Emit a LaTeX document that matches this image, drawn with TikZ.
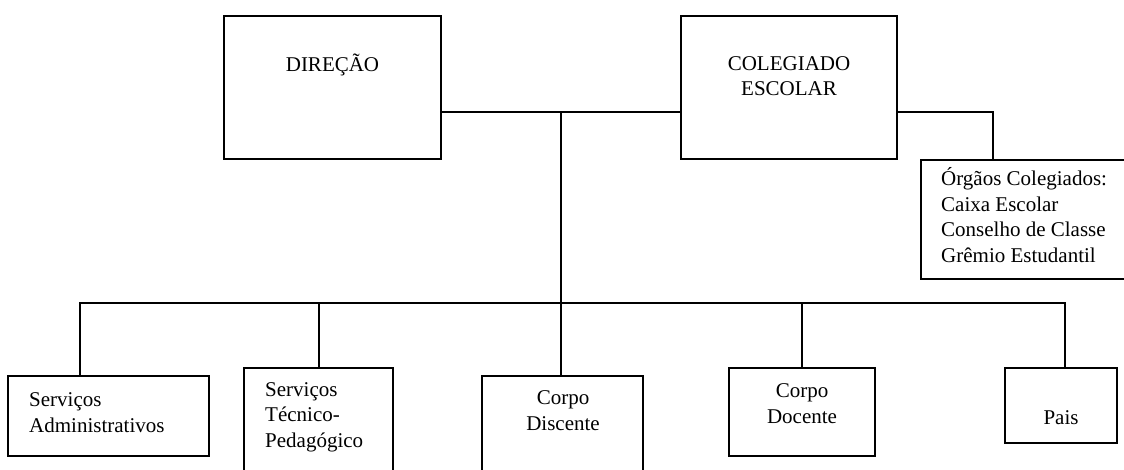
\documentclass[tikz,border=0pt]{standalone}
\usepackage{fontspec}
\setmainfont{Liberation Serif}
\usepackage{tikz}
\tikzset{
  orgbox/.style={rectangle, draw=black, line width=2pt, inner sep=0pt},
  orgline/.style={line width=2pt, draw=black, line cap=rect},
  orgtext/.style={font=\fontsize{21}{25.5}\selectfont, inner sep=0pt, anchor=base},
  orgleft/.style={orgtext, align=left, anchor=base west},
}

\begin{document}
\begin{tikzpicture}[x=1pt,y=-1pt]
\fill[white] (0,0) rectangle (1124,470);
\useasboundingbox (0,0) rectangle (1124,470);
\node[orgbox, minimum width=217pt, minimum height=143pt] (dir) at (332.5,87.5) {};
\node[orgbox, minimum width=216pt, minimum height=143pt] (col) at (789,87.5) {};
\node[orgbox, minimum width=205pt, minimum height=119pt] (org) at (1023.5,219.5) {};
\node[orgbox, minimum width=201pt, minimum height=80pt] (sa) at (108.5,416) {};
\node[orgbox, minimum width=149pt, minimum height=110pt] (st) at (318.5,423) {};
\node[orgbox, minimum width=161pt, minimum height=102pt] (disc) at (562.5,427) {};
\node[orgbox, minimum width=146pt, minimum height=88pt] (doc) at (802,412) {};
\node[orgbox, minimum width=112pt, minimum height=75pt] (pais) at (1061,405.5) {};
\node[orgtext] (tdir) at (332.5,72) {DIREÇÃO};
\node[orgtext, align=center] (tcol) at (789,96) {COLEGIADO\\ESCOLAR};
\node[orgleft] (torg) at (941,262) {Órgãos Colegiados:\\Caixa Escolar\\Conselho de Classe\\Grêmio Estudantil};
\node[orgleft] (tsa) at (29,432) {Serviços\\Administrativos};
\node[orgleft] (tst) at (265,447) {Serviços\\Técnico-\\Pedagógico};
\node[orgtext, align=center] (tdisc) at (563,430) {Corpo\\Discente};
\node[orgtext, align=center] (tdoc) at (802,423) {Corpo\\Docente};
\node[orgtext] (tpais) at (1061,424) {Pais};
\coordinate (jn) at (561,112);
\coordinate (cr) at (993,112);
\coordinate (busl) at (80,303);
\coordinate (busr) at (1065,303);
\draw[orgline] (dir.east |- jn) -- (col.west |- jn);
\draw[orgline] (jn) -- (jn |- disc.north);
\draw[orgline] (col.east |- cr) -- (cr) -- (cr |- org.north);
\draw[orgline] (busl) -- (busr);
\draw[orgline] (busl) -- (busl |- sa.north);
\draw[orgline] (st.north |- busl) -- (st.north);
\draw[orgline] (doc.north |- busl) -- (doc.north);
\draw[orgline] (busr) -- (busr |- pais.north);
\end{tikzpicture}
\end{document}
